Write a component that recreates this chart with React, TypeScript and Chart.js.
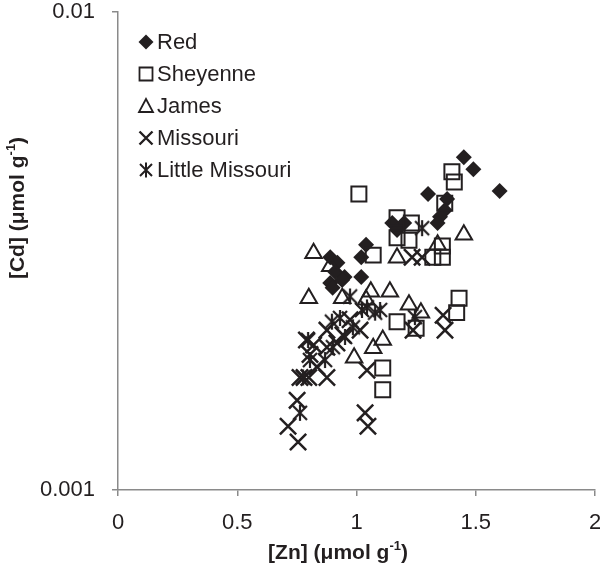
import React, { useEffect, useRef } from 'react';
import { Chart, registerables } from 'chart.js';

Chart.register(...registerables);

const seriesNames = ['Red', 'Sheyenne', 'James', 'Missouri', 'Little Missouri'];

const redZn = [1.45, 1.49, 1.60, 1.30, 1.38, 1.37, 1.35, 1.34, 1.15, 1.20, 1.17, 1.04, 1.02, 0.89, 0.92, 0.91, 0.95, 1.02, 0.89, 0.90, 0.94];
const redCd = [0.00497, 0.00469, 0.00422, 0.00416, 0.00406, 0.00385, 0.00373, 0.00362, 0.00362, 0.00362, 0.00350, 0.00326, 0.00307, 0.00307, 0.00299, 0.00286, 0.00279, 0.00279, 0.00271, 0.00265, 0.00275];

const sheyenneZn = [1.01, 1.40, 1.41, 1.37, 1.17, 1.23, 1.17, 1.22, 1.07, 1.36, 1.32, 1.36, 1.43, 1.42, 1.17, 1.25, 1.11, 1.11];
const sheyenneCd = [0.00416, 0.00463, 0.00441, 0.00398, 0.00371, 0.00362, 0.00337, 0.00333, 0.00310, 0.00324, 0.00307, 0.00307, 0.00252, 0.00235, 0.00225, 0.00218, 0.00180, 0.00162];

const jamesZn = [0.82, 1.45, 1.17, 1.34, 0.80, 0.94, 0.89, 1.06, 1.14, 1.22, 1.27, 1.11, 1.07, 0.99, 1.04];
const jamesCd = [0.00313, 0.00342, 0.00306, 0.00326, 0.00252, 0.00252, 0.00294, 0.00260, 0.00260, 0.00244, 0.00235, 0.00206, 0.00198, 0.00189, 0.00250];

const missouriZn = [0.755, 0.713, 0.751, 1.036, 1.048, 0.763, 0.876, 1.044, 1.363, 1.371, 1.237, 1.233, 1.275, 0.79, 0.82, 0.805, 0.876, 0.918, 0.943, 0.876, 0.834, 1.015, 0.973, 0.78, 0.80];
const missouriCd = [0.00126, 0.00136, 0.00154, 0.00145, 0.00136, 0.00172, 0.00172, 0.00178, 0.00232, 0.00216, 0.00216, 0.00307, 0.00307, 0.00206, 0.00201, 0.00192, 0.00199, 0.00203, 0.00211, 0.00216, 0.00181, 0.00216, 0.00227, 0.00172, 0.00172];

const littleMissouriZn = [1.275, 0.897, 0.973, 0.985, 1.044, 1.078, 1.099, 1.245, 0.952, 0.868, 0.776, 0.763, 0.901, 0.797, 0.805, 0.931, 1.023];
const littleMissouriCd = [0.00353, 0.00225, 0.00254, 0.00219, 0.00241, 0.00235, 0.00238, 0.00230, 0.00209, 0.00187, 0.00172, 0.00145, 0.00199, 0.00206, 0.00187, 0.00229, 0.00238];

const xTicks = [0, 0.5, 1, 1.5, 2];
const yTicks = [0.001, 0.01];

const INK = '#231f20';
const AXIS = '#8a8a8a';
const FONT = "'Liberation Sans', Arial, sans-serif";

function toPoints(xs: number[], ys: number[]) {
  return xs.map((x, i) => ({ x, y: ys[i] }));
}

function makeStar(size: number, lw: number) {
  const c = document.createElement('canvas');
  c.width = size;
  c.height = size;
  const g = c.getContext('2d')!;
  g.strokeStyle = INK;
  g.lineWidth = lw;
  const m = size / 2;
  const a = size / 2 - 2;
  g.beginPath();
  g.moveTo(m - a, m - a);
  g.lineTo(m + a, m + a);
  g.moveTo(m + a, m - a);
  g.lineTo(m - a, m + a);
  g.moveTo(m, m - a - 1);
  g.lineTo(m, m + a + 1);
  g.stroke();
  return c;
}

function drawMarker(ctx: CanvasRenderingContext2D, kind: number, x: number, y: number) {
  ctx.save();
  ctx.strokeStyle = INK;
  ctx.fillStyle = INK;
  ctx.lineWidth = 1.8;
  ctx.beginPath();
  if (kind === 0) {
    const r = 7.5;
    ctx.moveTo(x - r, y);
    ctx.lineTo(x, y - r);
    ctx.lineTo(x + r, y);
    ctx.lineTo(x, y + r);
    ctx.closePath();
    ctx.fill();
  } else if (kind === 1) {
    ctx.rect(x - 6.5, y - 6.5, 13, 13);
    ctx.stroke();
  } else if (kind === 2) {
    ctx.moveTo(x, y - 7);
    ctx.lineTo(x + 7, y + 6);
    ctx.lineTo(x - 7, y + 6);
    ctx.closePath();
    ctx.stroke();
  } else if (kind === 3) {
    ctx.lineWidth = 2.4;
    ctx.moveTo(x - 6.5, y - 6.5);
    ctx.lineTo(x + 6.5, y + 6.5);
    ctx.moveTo(x + 6.5, y - 6.5);
    ctx.lineTo(x - 6.5, y + 6.5);
    ctx.stroke();
  } else {
    ctx.lineWidth = 2;
    ctx.moveTo(x - 6, y - 6);
    ctx.lineTo(x + 6, y + 6);
    ctx.moveTo(x + 6, y - 6);
    ctx.lineTo(x - 6, y + 6);
    ctx.moveTo(x, y - 7.5);
    ctx.lineTo(x, y + 7.5);
    ctx.stroke();
  }
  ctx.restore();
}

function drawTitle(ctx: CanvasRenderingContext2D, main: string, sup: string, tail: string, cx: number, cy: number) {
  const big = `bold 21px ${FONT}`;
  const small = `bold 13px ${FONT}`;
  ctx.font = big;
  const w1 = ctx.measureText(main).width;
  const w3 = ctx.measureText(tail).width;
  ctx.font = small;
  const w2 = ctx.measureText(sup).width;
  const total = w1 + w2 + w3;
  let x = cx - total / 2;
  ctx.fillStyle = INK;
  ctx.textBaseline = 'middle';
  ctx.textAlign = 'left';
  ctx.font = big;
  ctx.fillText(main, x, cy);
  x += w1;
  ctx.font = small;
  ctx.fillText(sup, x, cy - 7);
  x += w2;
  ctx.font = big;
  ctx.fillText(tail, x, cy);
}

const AREA = { left: 118, right: 595, top: 12, bottom: 490 };

const areaPlugin = {
  id: 'fixedArea',
  afterLayout(chart: any) {
    const xs = chart.scales.x;
    const ys = chart.scales.y;
    const H = chart.height;
    xs.left = AREA.left; xs.right = AREA.right; xs.width = AREA.right - AREA.left;
    xs.top = AREA.bottom; xs.bottom = H; xs.height = H - AREA.bottom;
    ys.left = 0; ys.right = AREA.left; ys.width = AREA.left;
    ys.top = AREA.top; ys.bottom = AREA.bottom; ys.height = AREA.bottom - AREA.top;
    const ca = chart.chartArea;
    ca.left = AREA.left; ca.right = AREA.right; ca.top = AREA.top; ca.bottom = AREA.bottom;
    ca.width = AREA.right - AREA.left; ca.height = AREA.bottom - AREA.top;
    xs.configure();
    ys.configure();
  },
};

const overlayPlugin = {
  id: 'overlay',
  afterDraw(chart: any) {
    const ctx: CanvasRenderingContext2D = chart.ctx;
    ctx.save();
    drawTitle(ctx, '[Zn] (\u03bcmol g', '-1', ')', 338, 553);
    ctx.save();
    ctx.translate(18, 208);
    ctx.rotate(-Math.PI / 2);
    drawTitle(ctx, '[Cd] (\u03bcmol g', '-1', ')', 0, 0);
    ctx.restore();
    seriesNames.forEach((name, i) => {
      const y = 42 + 32 * i;
      drawMarker(ctx, i, 146, y);
      ctx.font = `22px ${FONT}`;
      ctx.fillStyle = INK;
      ctx.textAlign = 'left';
      ctx.textBaseline = 'middle';
      ctx.fillText(name, 157, y + 1);
    });
    ctx.restore();
  },
};

export default function App() {
  const ref = useRef<HTMLCanvasElement>(null);
  useEffect(() => {
    const canvas = ref.current!;
    const star = makeStar(18, 2.2);
    const common = { showLine: false, pointHoverRadius: 0 };
    const datasets: any[] = [
      { ...common, label: seriesNames[0], data: toPoints(redZn, redCd), pointStyle: 'rectRot', pointRadius: 8, backgroundColor: INK, borderColor: INK, borderWidth: 0, order: 4 },
      { ...common, label: seriesNames[1], data: toPoints(sheyenneZn, sheyenneCd), pointStyle: 'rect', pointRadius: 10.6, backgroundColor: 'rgba(0,0,0,0)', borderColor: INK, borderWidth: 2, order: 3 },
      { ...common, label: seriesNames[2], data: toPoints(jamesZn, jamesCd), pointStyle: 'triangle', pointRadius: 9.5, backgroundColor: 'rgba(0,0,0,0)', borderColor: INK, borderWidth: 2, order: 2 },
      { ...common, label: seriesNames[3], data: toPoints(missouriZn, missouriCd), pointStyle: 'crossRot', pointRadius: 11.5, backgroundColor: INK, borderColor: INK, borderWidth: 2.5, order: 1 },
      { ...common, label: seriesNames[4], data: toPoints(littleMissouriZn, littleMissouriCd), pointStyle: star, pointRadius: 9, backgroundColor: INK, borderColor: INK, borderWidth: 0, order: 0 },
    ];
    const chart = new Chart(canvas, {
      type: 'scatter',
      data: { datasets },
      options: {
        responsive: false,
        animation: false,
        events: [],
        layout: { padding: { top: 12, right: 5, left: 0, bottom: 0 } },
        plugins: { legend: { display: false }, tooltip: { enabled: false } },
        scales: {
          x: {
            type: 'linear',
            min: xTicks[0],
            max: xTicks[xTicks.length - 1],
            afterBuildTicks: (s: any) => { s.ticks = xTicks.map((v) => ({ value: v })); },
            ticks: { font: { family: FONT, size: 22 }, color: INK, padding: 14, maxRotation: 0, callback: (v: any) => String(v) },
            grid: { drawOnChartArea: false, drawTicks: true, tickLength: 6, color: AXIS, lineWidth: 1.5 },
            border: { display: true, color: AXIS, width: 1.5 },
            afterFit: (s: any) => { s.height = 79; },
          },
          y: {
            type: 'logarithmic',
            min: yTicks[0],
            max: yTicks[yTicks.length - 1],
            afterBuildTicks: (s: any) => { s.ticks = yTicks.map((v) => ({ value: v })); },
            ticks: { font: { family: FONT, size: 22 }, color: INK, padding: 17, callback: (v: any) => String(v) },
            grid: { drawOnChartArea: false, drawTicks: true, tickLength: 6, color: AXIS, lineWidth: 1.5 },
            border: { display: true, color: AXIS, width: 1.5 },
            afterFit: (s: any) => { s.width = 118; },
          },
        },
      } as any,
      plugins: [areaPlugin, overlayPlugin],
    });
    return () => chart.destroy();
  }, []);
  return (
    <div style={{ position: 'absolute', left: 0, top: 0, width: 600, height: 569, background: '#ffffff' }}>
      <canvas ref={ref} width={600} height={569} style={{ display: 'block' }} />
    </div>
  );
}
